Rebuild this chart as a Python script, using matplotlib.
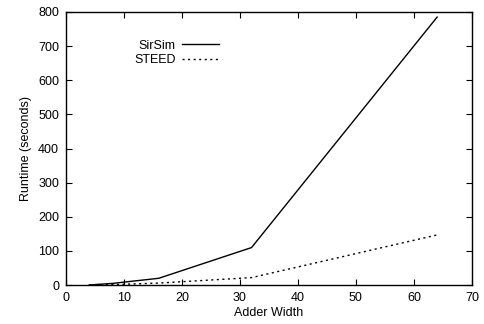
import matplotlib
matplotlib.use('Agg')
import matplotlib.pyplot as plt

# adder width vs runtime
widths = [4, 8, 16, 32, 64]
sirsim = [0.5, 5, 20, 110, 785]
steed = [0.2, 1.5, 6, 22, 147]

plt.rcParams['font.family'] = ['Liberation Sans', 'DejaVu Sans']
plt.rcParams['font.size'] = 9

fig = plt.figure(figsize=(4.85, 3.24), dpi=100)
ax = fig.add_axes([0.136, 0.12, 0.837, 0.843])

ax.plot(widths, sirsim, color='black', lw=1.0, label='SirSim')
ax.plot(widths, steed, color='black', lw=1.0, ls=(0, (1.5, 2.5)), label='STEED')

ax.set_xlim(0, 70)
ax.set_ylim(0, 800)
ax.set_xticks(range(0, 71, 10))
ax.set_yticks(range(0, 801, 100))
ax.tick_params(direction='in', top=True, right=True, length=4, width=0.8, pad=5)
for s in ax.spines.values():
    s.set_linewidth(1.0)

ax.set_xlabel('Adder Width', labelpad=2)
ax.set_ylabel('Runtime (seconds)', labelpad=4)

ax.legend(loc='upper left', bbox_to_anchor=(0.14, 0.94), frameon=False,
          markerfirst=False, handlelength=2.9, handletextpad=0.55,
          labelspacing=0.2, fontsize=9)

fig.savefig('out.png', dpi=100)
